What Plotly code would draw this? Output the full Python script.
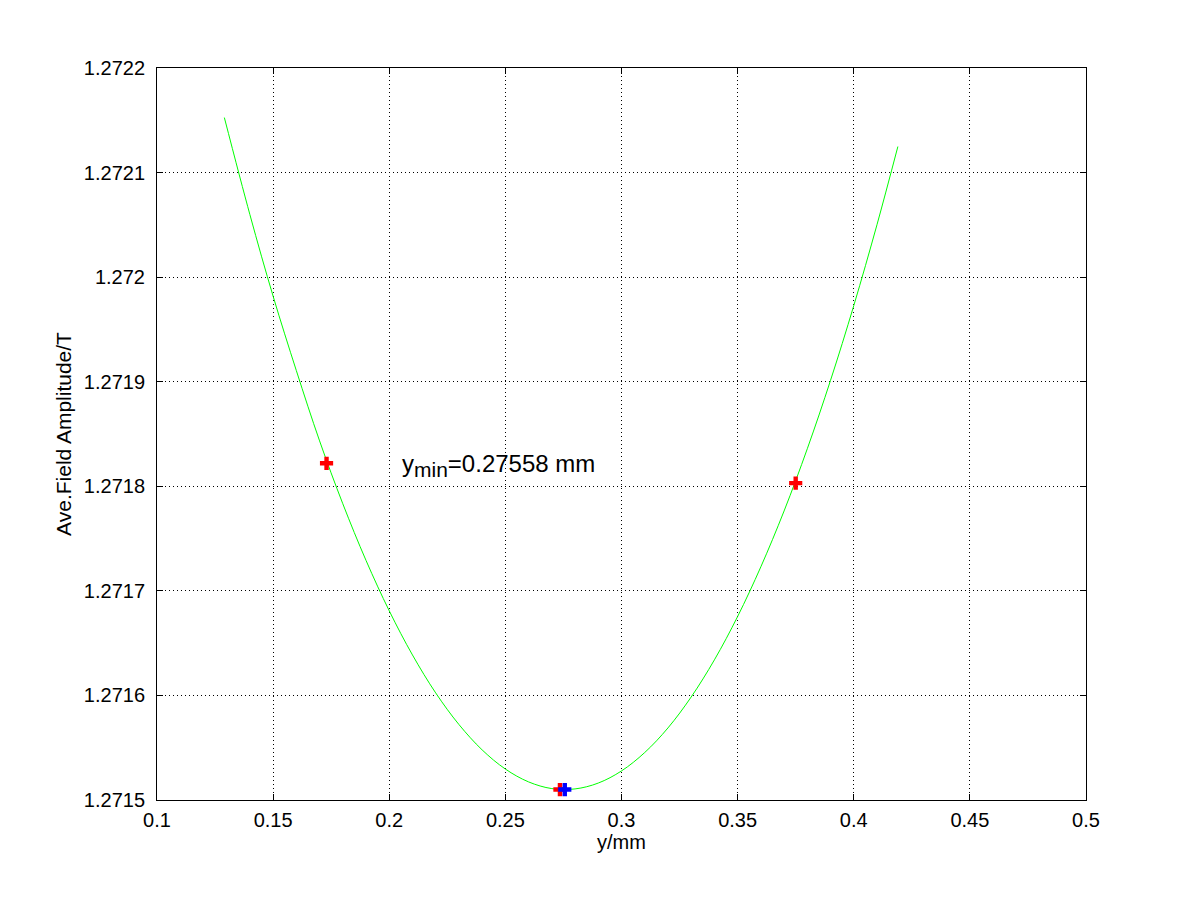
import plotly.graph_objects as go

# Fitted curve
curve_x = [0.129, 0.14, 0.15, 0.16, 0.17, 0.18, 0.19, 0.20, 0.21, 0.22, 0.23, 0.24,
           0.25, 0.26, 0.27, 0.28, 0.29, 0.30, 0.31, 0.32, 0.33, 0.34, 0.35, 0.36,
           0.37, 0.38, 0.39, 0.40, 0.41, 0.419]
curve_y = [1.2721526, 1.2720598, 1.2719817, 1.2719106, 1.2718434, 1.2717833, 1.2717291,
           1.2716809, 1.2716387, 1.2716024, 1.2715722, 1.2715479, 1.2715296, 1.2715173,
           1.2715109, 1.2715106, 1.2715162, 1.2715278, 1.2715454, 1.2715689, 1.2715985,
           1.2716340, 1.2716755, 1.2717230, 1.2717764, 1.2718359, 1.2719013, 1.2719727,
           1.2720501, 1.2721249]

# Measured points
meas_x = [0.173, 0.2735, 0.375]
meas_y = [1.271822, 1.271510, 1.271803]

# Minimum
min_x = [0.27558]
min_y = [1.271510]

x_ticks = [0.1, 0.15, 0.2, 0.25, 0.3, 0.35, 0.4, 0.45, 0.5]
x_tick_text = ["0.1", "0.15", "0.2", "0.25", "0.3", "0.35", "0.4", "0.45", "0.5"]
y_ticks = [1.2715, 1.2716, 1.2717, 1.2718, 1.2719, 1.2720, 1.2721, 1.2722]
y_tick_text = ["1.2715", "1.2716", "1.2717", "1.2718", "1.2719", "1.272", "1.2721", "1.2722"]

FONT = "Liberation Sans, Arial, Helvetica, sans-serif"

fig = go.Figure()
fig.add_trace(go.Scatter(x=curve_x, y=curve_y, mode="lines",
                         line=dict(color="#00ff00", width=1, shape="spline"),
                         showlegend=False))
fig.add_trace(go.Scatter(x=meas_x, y=meas_y, mode="markers",
                         marker=dict(symbol="cross", size=11, color="#ff0000",
                                     line=dict(width=0)),
                         showlegend=False))
fig.add_trace(go.Scatter(x=min_x, y=min_y, mode="markers",
                         marker=dict(symbol="cross", size=11, color="#0000ff",
                                     line=dict(width=0)),
                         showlegend=False))

fig.add_annotation(x=0.2045, y=1.27182, xref="x", yref="y", xanchor="left", yanchor="middle",
                   text="y<sub><span style='font-size:21px'>min</span></sub>=0.27558 mm",
                   showarrow=False,
                   font=dict(family=FONT, size=24, color="black"))

axis_common = dict(showline=True, linecolor="black", linewidth=1, mirror="ticks",
                   ticks="inside", ticklen=6, tickcolor="black",
                   showgrid=True, gridcolor="black", griddash="1px,3px", gridwidth=1,
                   zeroline=False,
                   tickfont=dict(family=FONT, size=20, color="black"))

fig.update_xaxes(range=[0.1, 0.5], tickvals=x_ticks, ticktext=x_tick_text,
                 ticklabelstandoff=2,
                 title=dict(text="y/mm", font=dict(family=FONT, size=20, color="black"),
                            standoff=2),
                 **axis_common)
fig.update_yaxes(range=[1.2715, 1.2722], tickvals=y_ticks, ticktext=y_tick_text,
                 ticklabelstandoff=7,
                 title=dict(text="Ave.Field Amplitude/T", font=dict(family=FONT, size=21, color="black"),
                            standoff=6),
                 **axis_common)

fig.update_layout(width=1200, height=900, plot_bgcolor="white", paper_bgcolor="white",
                  margin=dict(l=149, r=122, t=60, b=108, autoexpand=False),
                  font=dict(family=FONT))

fig.write_html("out.html")
